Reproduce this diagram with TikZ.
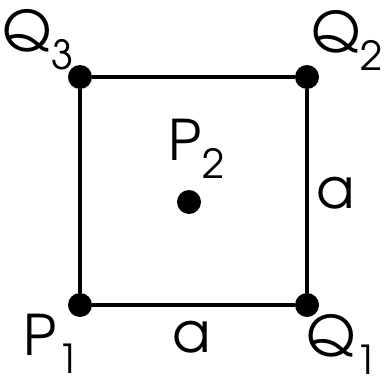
\documentclass[tikz,border=0pt]{standalone}
\usepackage{fontspec}
\setmainfont{texgyreadventor-regular.otf}
\usepackage{tikz}
\tikzset{
    dot/.style={circle, fill=black, inner sep=0pt, minimum size=24pt},
    side/.style={black, line width=4pt},
    lbl/.style={inner sep=0pt, anchor=base west, font=\fontsize{56}{56}\selectfont},
}
\newcommand{\pt}[2]{#1\kern1pt\raisebox{-18pt}{\fontsize{40}{40}\selectfont #2}}

\begin{document}
\begin{tikzpicture}[x=1pt, y=1pt]
    \useasboundingbox (0,0) rectangle (385,381);
    \node [dot] (p1) at (80, 76) {};
    \node [dot] (q1) at (307, 76) {};
    \node [dot] (q2) at (307, 304) {};
    \node [dot] (q3) at (80, 304) {};
    \node [dot] (p2) at (189, 179) {};
    \draw [side] (p1) -- (q1) -- (q2) -- (q3) -- (p1);
    % labels
    \node [lbl] (lq3) at (2, 329) {\pt{Q}{3}};
    \node [lbl] (lq2) at (311, 328) {\pt{Q}{2}};
    \node [lbl] (lp2) at (168, 221) {\pt{P}{2}};
    \node [lbl] (lp1) at (23, 26) {\pt{P}{1}};
    \node [lbl] (lq1) at (306, 25) {\pt{Q}{1}};
    \node [lbl] (ab) at (172, 29) {a};
    \node [lbl] (ar) at (316, 173) {a};
\end{tikzpicture}
\end{document}
